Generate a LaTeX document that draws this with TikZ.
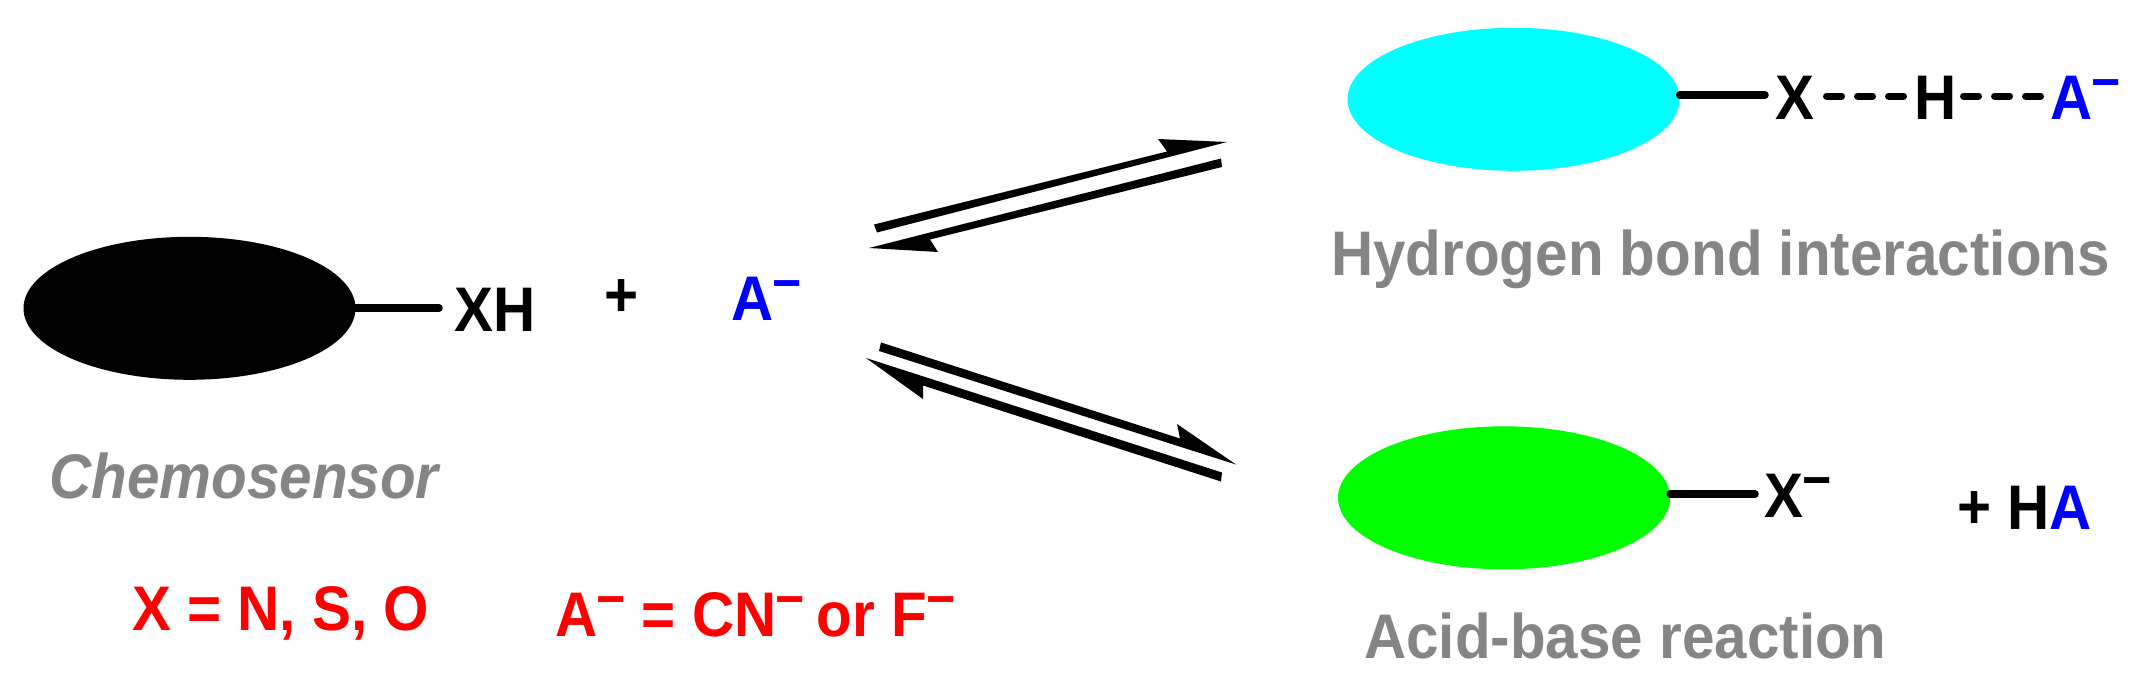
\documentclass[tikz,border=0pt]{standalone}
\usepackage{fontspec}
\setmainfont{Liberation Sans}[FakeStretch=0.927]
\usetikzlibrary{shapes.geometric}
\definecolor{labelgrey}{HTML}{858585}
\definecolor{purecyan}{HTML}{00FFFF}
\definecolor{puregreen}{HTML}{00FF00}
\definecolor{purered}{HTML}{FF0000}
\definecolor{pureblue}{HTML}{0000FF}
\newcommand{\supminus}{\kern-1pt\smash{\raisebox{19pt}{\fontsize{54}{54}\selectfont −}}}
\tikzset{
  blob/.style={ellipse,draw=none,minimum width=332pt,minimum height=143pt,inner sep=0pt},
  txt/.style={anchor=base west,inner sep=0pt,font=\bfseries\fontsize{63}{65}\selectfont},
  bond/.style={line width=7.5pt,line cap=round},
  hbond/.style={line width=7pt,line cap=round,dash pattern=on 15pt off 16pt},
  harrow/.style={fill=black,draw=none},
}
\begin{document}
\begin{tikzpicture}[x=1pt,y=-1pt]
\useasboundingbox (0,0) rectangle (2152,699);
% bodies
\node[blob,fill=black] (cs) at (189.5,308.3) {};
\node[blob,fill=purecyan] (hb) at (1513.5,99.3) {};
\node[blob,fill=puregreen] (ab) at (1504,497.8) {};
% left side
\node[txt] (xh) at (454,331.7) {XH};
\node[txt] (plus) at (604,316) {+};
\node[txt,text=pureblue] (anion) at (731,320.7) {A\supminus};
\node[txt,text=labelgrey,font=\bfseries\itshape\fontsize{63}{65}\selectfont] (chemo) at (49,498.3) {Chemosensor};
\node[txt,text=purered] (xdef) at (132,630.7) {X = N, S, O};
\node[txt,text=purered] (adef) at (555,636) {A\supminus{} = CN\supminus\kern-4pt{} or F\supminus};
% upper product
\node[txt] (hx) at (1775,119) {X};
\node[txt] (hh) at (1914,119.3) {H};
\node[txt,text=pureblue] (ha) at (2050,119.3) {A\supminus};
\node[txt,text=labelgrey] (hlabel) at (1331,275.7) {Hydrogen bond interactions};
% lower product
\node[txt] (lx) at (1764,517.7) {X\supminus};
\node[txt] (lplus) at (1957,528) {+};
\node[txt] (lh) at (2007,529.3) {H\textcolor{pureblue}{A}};
\node[txt,text=labelgrey] (alabel) at (1364,658.3) {Acid-base reaction};
% bonds
\coordinate (csend) at (439,308);
\coordinate (hbend) at (1765,95);
\coordinate (abend) at (1755,494);
\draw[bond] (cs.east |- csend) -- (csend);
\draw[bond] (hb.east |- hbend) -- (hbend);
\draw[bond] (ab.east |- abend) -- (abend);
\draw[hbond] (1826.5,96) -- (1904,96);
\draw[hbond] (1963.5,96) -- (2041,96);
% equilibrium half arrows
\fill[harrow] (874,224.5) -- (1167,151.5) -- (1158,139) -- (1227,142) -- (877,232.5) -- cycle;
\fill[harrow] (1221,158.5) -- (869,248) -- (938,252) -- (930,239.5) -- (1222,167) -- cycle;
\fill[harrow] (881,342.5) -- (1180,438.5) -- (1177,424) -- (1236,464.5) -- (879,351) -- cycle;
\fill[harrow] (1222,472.5) -- (866,358) -- (923,399) -- (923,385.5) -- (1221,481.5) -- cycle;
\end{tikzpicture}
\end{document}
